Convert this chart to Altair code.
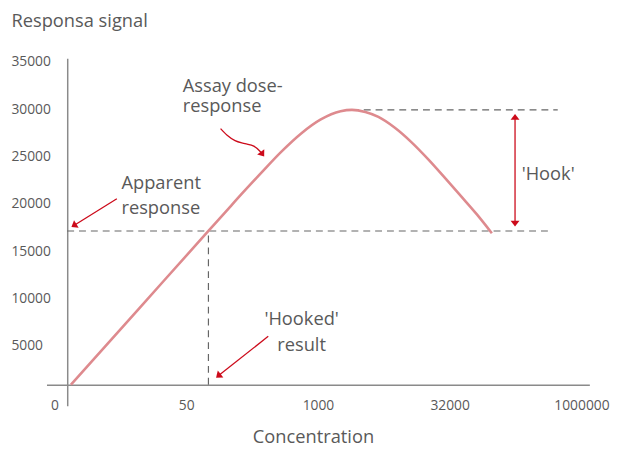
import altair as alt
import pandas as pd

# ---- axis labels ----
conc_labels = ["0", "50", "1000", "32000", "1000000"]
conc_pos = [0, 1, 2, 3, 4]
y_ticks = [5000, 10000, 15000, 20000, 25000, 30000, 35000]

# ---- dose-response curve ----
curve_x = [0.125, 0.649, 1.169, 1.296, 1.423, 1.573, 1.723, 1.873, 2.022, 2.172,
           2.258, 2.360, 2.459, 2.584, 2.709, 2.834, 2.959, 3.084, 3.208, 3.320]
curve_y = [917, 9057, 17135, 19100, 21070, 23323, 25510, 27427, 28906, 29771,
           29917, 29688, 29167, 28021, 26510, 24740, 22813, 20833, 18854, 16896]

# ---- reference (dashed) lines ----
apparent_value = 17135
peak_value = 29917
hooked_conc = 1.169
dash_x1 = [0.097, hooked_conc, 2.258]
dash_x2 = [3.758, hooked_conc, 3.820]
dash_y1 = [apparent_value, 917, peak_value]
dash_y2 = [apparent_value, apparent_value, peak_value]

# ---- straight arrows ----
arr_x1 = [0.474, 1.623, 3.496]
arr_x2 = [0.148, 1.244, 3.496]
arr_y1 = [20542, 6021, 29167]
arr_y2 = [17719, 1844, 17917]

# ---- curved arrow ----
curl_x = [1.261, 1.311, 1.371, 1.446, 1.513, 1.558, 1.579]
curl_y = [27938, 27240, 26667, 26354, 26094, 25573, 25240]

# ---- arrow heads ----
head_x = [0.148, 1.244, 1.579, 3.496, 3.496]
head_y = [17719, 1844, 25240, 29167, 17917]
head_angle = [238.6, 231.6, 143.1, 0, 180]

# ---- annotation texts ----
left_text = ["Assay dose-", "response", "Apparent", "response", "'Hook'"]
left_x = [0.974, 0.974, 0.509, 0.509, 3.546]
left_y = [31750, 29740, 21583, 18979, 22552]
center_text = ["'Hooked'", "result"]
center_x = [1.876, 1.876]
center_y = [7240, 4500]

FONT = "Open Sans"
TEXT = "#595959"
RED = "#cc0a1a"
CURVE = "#de8a8e"
AXIS = "#8a8a8a"

label_expr = "[" + ",".join('"%s"' % s for s in conc_labels) + "][datum.value]"

xs = alt.Scale(domain=[-0.06, 4.06], nice=False, zero=False)
ys = alt.Scale(domain=[-1302, 35365], nice=False, zero=False)

xaxis = alt.Axis(values=conc_pos, labelExpr=label_expr, offset=-21.3, grid=False,
                 ticks=False, tickSize=0, labelPadding=14, labelFlush=False,
                 labelFont=FONT, labelFontSize=14, labelColor=TEXT,
                 domainColor=AXIS, domainWidth=1.5,
                 title="Concentration", titleFont=FONT, titleFontSize=18.5,
                 titleFontWeight="normal", titleColor=TEXT, titleX=270, titleY=59,
                 titleAlign="center", titleBaseline="alphabetic")
yaxis = alt.Axis(values=y_ticks, format="d", offset=-21, grid=False, ticks=False, tickSize=0,
                 labelAlign="left", labelBaseline="middle", labelPadding=57,
                 labelFont=FONT, labelFontSize=14, labelColor=TEXT,
                 domainColor=AXIS, domainWidth=1.5,
                 title="Responsa signal", titleFont=FONT, titleFontSize=18.5,
                 titleFontWeight="normal", titleColor=TEXT, titleAngle=0,
                 titleAlign="left", titleBaseline="alphabetic", titleX=-57, titleY=-32)


def X(f):
    return alt.X(f, type="quantitative", scale=xs, axis=xaxis)


def Y(f):
    return alt.Y(f, type="quantitative", scale=ys, axis=yaxis)


curve_df = pd.DataFrame({"x": curve_x, "y": curve_y})
dash_df = pd.DataFrame({"x": dash_x1, "x2": dash_x2, "y": dash_y1, "y2": dash_y2})
arr_df = pd.DataFrame({"x": arr_x1, "x2": arr_x2, "y": arr_y1, "y2": arr_y2})
curl_df = pd.DataFrame({"x": curl_x, "y": curl_y})
head_df = pd.DataFrame({"x": head_x, "y": head_y, "angle": head_angle})
left_df = pd.DataFrame({"x": left_x, "y": left_y, "t": left_text})
center_df = pd.DataFrame({"x": center_x, "y": center_y, "t": center_text})

dashes = alt.Chart(dash_df).mark_rule(color="#666666", strokeWidth=1.2, strokeDash=[7, 5]).encode(
    x=X("x"), x2="x2", y=Y("y"), y2="y2")

curve = alt.Chart(curve_df).mark_line(color=CURVE, strokeWidth=2.6, interpolate="monotone").encode(
    x=X("x"), y=Y("y"))

arrows = alt.Chart(arr_df).mark_rule(color=RED, strokeWidth=1.3).encode(
    x=X("x"), x2="x2", y=Y("y"), y2="y2")

curl = alt.Chart(curl_df).mark_line(color=RED, strokeWidth=1.3, interpolate="monotone").encode(
    x=X("x"), y=Y("y"))

heads = alt.Chart(head_df).mark_point(shape="M-1,0.65L0,-0.65L1,0.65Z", filled=True, size=81,
                                       color=RED, opacity=1).encode(
    x=X("x"), y=Y("y"), angle=alt.Angle("angle:Q", scale=None))

left_txt = alt.Chart(left_df).mark_text(align="left", baseline="alphabetic", font=FONT,
                                        fontSize=18.5, color=TEXT).encode(
    x=X("x"), y=Y("y"), text="t:N")

center_txt = alt.Chart(center_df).mark_text(align="center", baseline="alphabetic", font=FONT,
                                            fontSize=18.5, color=TEXT).encode(
    x=X("x"), y=Y("y"), text="t:N")

chart = alt.layer(dashes, curve, arrows, curl, heads, left_txt, center_txt).properties(
    width=550, height=352,
    autosize=alt.AutoSizeParams(type="none"),
    padding={"left": 39, "top": 48, "right": 27, "bottom": 42},
).configure_view(stroke=None)

chart.save("out.html", embed_options={"renderer": "svg", "actions": False})
